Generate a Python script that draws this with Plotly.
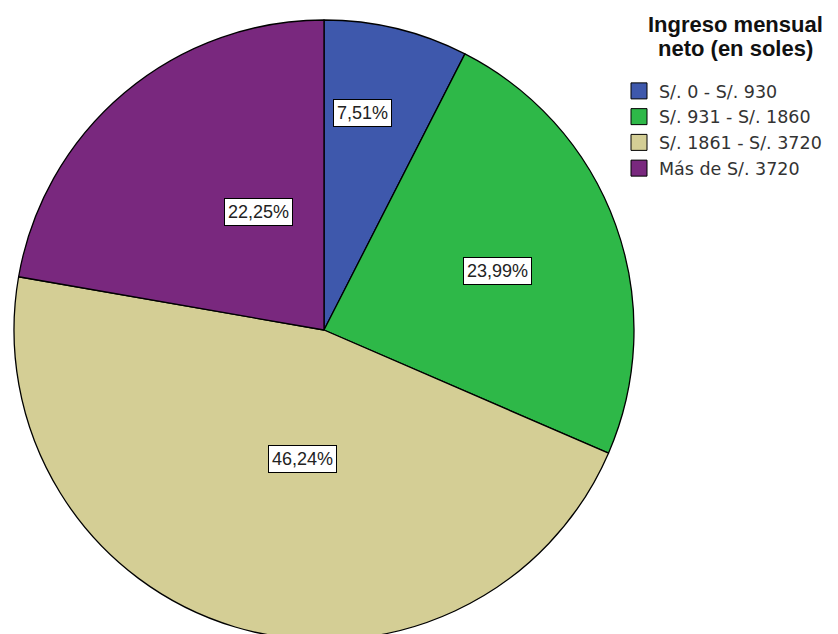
import math
import plotly.graph_objects as go

categories = ["S/. 0 - S/. 930", "S/. 931 - S/. 1860", "S/. 1861 - S/. 3720", "Más de S/. 3720"]
values = [7.51, 23.99, 46.24, 22.25]
value_labels = ["7,51%", "23,99%", "46,24%", "22,25%"]
colors = ["#3E58AC", "#2EB848", "#D4CE95", "#79287E"]
legend_title = ["Ingreso mensual", "neto (en soles)"]

W, H = 838, 660
cx_px, cy_px, R = 324, 330, 310
FONT = "Liberation Sans, Arial, sans-serif"
LEG_FONT = "DejaVu Sans, Liberation Sans, sans-serif"

fig = go.Figure()
fig.add_trace(go.Pie(
    labels=categories,
    values=values,
    sort=False,
    direction="clockwise",
    rotation=0,
    textinfo="none",
    hoverinfo="label+percent",
    showlegend=False,
    marker=dict(colors=colors, line=dict(color="#000000", width=1.3)),
    domain=dict(x=[(cx_px - R) / W, (cx_px + R) / W],
                y=[1 - (cy_px + R) / H, 1 - (cy_px - R) / H]),
))

# legend entries (square swatches)
for cat, col in zip(categories, colors):
    fig.add_trace(go.Scatter(
        x=[None], y=[None], mode="markers", name=cat,
        marker=dict(symbol="square", size=16, color=col,
                    line=dict(color="#000000", width=1)),
        hoverinfo="skip",
    ))

# value labels placed from the slice angles
label_rfrac = [0.754, 0.59, 0.495, 0.534]
label_dang = [-4.0, 1.0, 4.8, 2.9]
total = sum(values)
cum = 0
annotations = []
for v, lab, rf, da in zip(values, value_labels, label_rfrac, label_dang):
    mid = (cum + v / 2) / total * 360 + da
    cum += v
    a = math.radians(mid)
    px = cx_px + rf * R * math.sin(a)
    py = cy_px - rf * R * math.cos(a)
    annotations.append(dict(
        x=px / W, y=1 - py / H, xref="paper", yref="paper",
        text=lab, showarrow=False,
        font=dict(family=FONT, size=18, color="#222222"),
        bgcolor="#FFFFFF", bordercolor="#000000", borderwidth=1, borderpad=3,
    ))

# legend title (two centred lines)
for line, ypx in zip(legend_title, [25, 49]):
    annotations.append(dict(
        x=735 / W, y=1 - ypx / H, xref="paper", yref="paper",
        xanchor="center", yanchor="middle",
        text="<b>" + line + "</b>", showarrow=False,
        font=dict(family=FONT, size=22, color="#111111"),
    ))

fig.update_layout(
    width=W, height=H,
    margin=dict(l=0, r=0, t=0, b=0),
    paper_bgcolor="#FFFFFF",
    plot_bgcolor="#FFFFFF",
    font=dict(family=FONT, size=14, color="#333333"),
    annotations=annotations,
    xaxis=dict(visible=False),
    yaxis=dict(visible=False),
    legend=dict(
        x=619 / W, y=1 - 73 / H, xanchor="left", yanchor="top",
        font=dict(family=LEG_FONT, size=17.5, color="#333333"),
        itemwidth=30, tracegroupgap=0,
        bgcolor="rgba(0,0,0,0)",
    ),
    showlegend=True,
)

fig.write_html("out.html", config={"displayModeBar": False},
               post_script="document.body.style.margin='0';document.body.style.overflow='hidden';")
